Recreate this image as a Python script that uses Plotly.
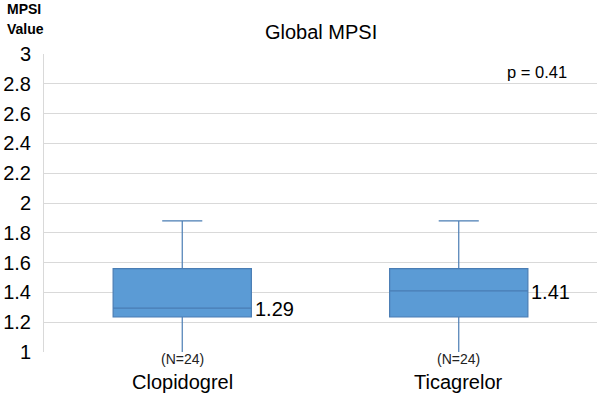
import plotly.graph_objects as go

categories = ["Clopidogrel", "Ticagrelor"]
n_labels = ["(N=24)", "(N=24)"]
q1 = [1.235, 1.235]
median = [1.295, 1.41]
q3 = [1.56, 1.56]
lower = [0.99, 0.99]
upper = [1.88, 1.88]
median_labels = ["1.29", "1.41"]
y_ticks = [1, 1.2, 1.4, 1.6, 1.8, 2, 2.2, 2.4, 2.6, 2.8, 3]
p_text = "p = 0.41"

FONT = "Liberation Sans, Arial, sans-serif"

fig = go.Figure()
fig.add_trace(go.Box(
    x=categories, q1=q1, median=median, q3=q3,
    lowerfence=lower, upperfence=upper,
    fillcolor="#5B9BD5", line=dict(color="#4A7DB4", width=1.2),
    whiskerwidth=0.29, width=0.5, boxpoints=False, showlegend=False,
    hoverinfo="skip",
))

annotations = []
for i, (m, lab) in enumerate(zip(median, median_labels)):
    annotations.append(dict(x=i + 0.255, y=m, xref="x", yref="y", text=lab,
                            showarrow=False, xanchor="left", yanchor="middle",
                            font=dict(size=20, color="#000", family=FONT), yshift=-1))
for i, (c, n) in enumerate(zip(categories, n_labels)):
    annotations.append(dict(x=i, y=0, xref="x", yref="paper", text=n, showarrow=False,
                            xanchor="center", yanchor="middle", yshift=-7,
                            font=dict(size=14, color="#222", family=FONT)))
    annotations.append(dict(x=i, y=0, xref="x", yref="paper", text=c, showarrow=False,
                            xanchor="center", yanchor="middle", yshift=-30,
                            font=dict(size=20, color="#000", family=FONT)))
annotations.append(dict(x=0.5, y=1, xref="paper", yref="paper", text="Global MPSI",
                        showarrow=False, xanchor="center", yanchor="middle", yshift=22,
                        font=dict(size=20, color="#000", family=FONT)))
annotations.append(dict(x=0.95, y=2.88, xref="paper", yref="y", text=p_text,
                        showarrow=False, xanchor="right", yanchor="middle",
                        font=dict(size=16.5, color="#000", family=FONT)))
annotations.append(dict(x=0, y=1, xref="paper", yref="paper", text="<b>MPSI</b>",
                        showarrow=False, xanchor="left", yanchor="middle",
                        xshift=-39, yshift=45,
                        font=dict(size=14, color="#000", family=FONT)))
annotations.append(dict(x=0, y=1, xref="paper", yref="paper", text="<b>Value</b>",
                        showarrow=False, xanchor="left", yanchor="middle",
                        xshift=-39, yshift=25,
                        font=dict(size=14, color="#000", family=FONT)))

fig.update_layout(
    width=600, height=396,
    margin=dict(l=41, r=3, t=54, b=44),
    paper_bgcolor="white", plot_bgcolor="white",
    font=dict(family=FONT, color="#000"),
    annotations=annotations,
    hovermode=False,
    xaxis=dict(type="category", range=[-0.5, 1.5], showticklabels=False, showgrid=False,
               showline=False, zeroline=False),
    yaxis=dict(range=[1, 3], tickvals=y_ticks, ticktext=[f"{v:g}" for v in y_ticks],
               showgrid=True, gridcolor="#D9D9D9", gridwidth=1,
               showline=True, linecolor="#D9D9D9", zeroline=False,
               tickfont=dict(size=20, color="#000", family=FONT), ticks="",
               ticklabelstandoff=8),
)

fig.write_html("out.html", config={"displayModeBar": False},
               post_script="document.body.style.margin='0';")
